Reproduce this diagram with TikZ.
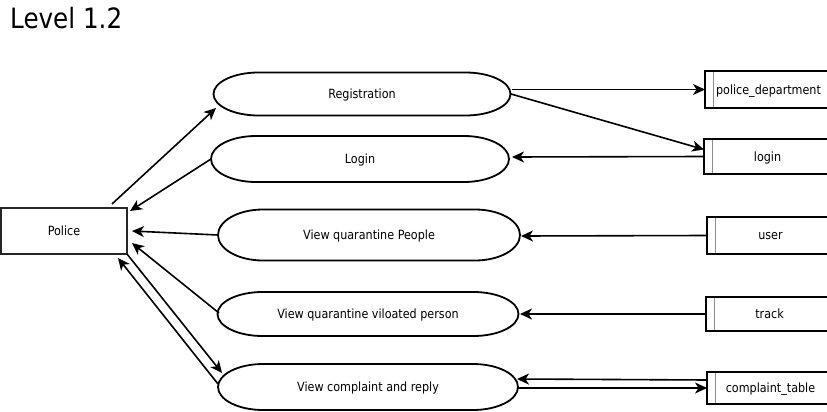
\documentclass[tikz,border=0pt]{standalone}
\usepackage{fontspec}
\setmainfont{DejaVu Sans}[FakeStretch=0.88]
\usetikzlibrary{arrows.meta,calc}
\tikzset{
  proc/.style={rectangle, inner sep=0pt, outer sep=0pt, text depth=0pt, font=\fontsize{12.7}{14}\selectfont},
  procline/.style={line width=1.8pt},
  ent/.style={rectangle, draw, line width=2pt, draw=black!85, minimum width=126pt, minimum height=46pt, inner sep=0pt, outer sep=0pt, text depth=0pt, font=\fontsize{12.7}{14}\selectfont},
  store/.style={rectangle, draw, line width=2pt, anchor=west, minimum width=127pt, inner sep=0pt, outer sep=0pt, text depth=0pt, font=\fontsize{12.7}{14}\selectfont,
    path picture={\draw[line width=0.8pt, black!45] ([xshift=8pt]path picture bounding box.north west) -- ([xshift=8pt]path picture bounding box.south west);}},
  flow/.style={line width=1.6pt, -{Stealth[length=12pt,width=11pt,inset=3.5pt]}}
}
\newcommand{\stad}[1]{\draw[procline] let \p1=(#1.north east), \p2=(#1.south west), \n1={(\y1-\y2)/2} in
  ($(#1.north west)+(45pt,0pt)$) -- ($(#1.north east)+(-45pt,0pt)$)
  arc[start angle=90,end angle=-90,x radius=45pt,y radius=\n1]
  -- ($(#1.south west)+(45pt,0pt)$)
  arc[start angle=270,end angle=90,x radius=45pt,y radius=\n1] -- cycle;}
\begin{document}
\begin{tikzpicture}[x=1pt,y=-1pt]
\useasboundingbox (0,0) rectangle (827,412);
\node[anchor=base west, inner sep=0pt, font=\fontsize{28}{30}\selectfont] (title) at (10,29) {Level 1.2};
\node[ent] (police) at (64,231) {Police};
\node[proc, minimum width=297pt, minimum height=43pt] (reg) at (362,94) {Registration};
\node[proc, minimum width=298pt, minimum height=46pt] (login) at (360,159) {Login};
\node[proc, minimum width=302pt, minimum height=51pt] (vqp) at (369,235) {View quarantine People};
\node[proc, minimum width=301pt, minimum height=44pt] (vqvp) at (368,314) {View quarantine viloated person};
\node[proc, minimum width=300pt, minimum height=46pt] (vcr) at (368,387) {View complaint and reply};
\stad{reg}\stad{login}\stad{vqp}\stad{vqvp}\stad{vcr}
\node[store, minimum height=37pt] (pd) at (705,89.5) {police\_department};
\node[store, minimum height=35pt] (lg) at (704,156.5) {login};
\node[store, minimum height=37pt] (us) at (707,235.5) {user};
\node[store, minimum height=34pt] (tr) at (706,314) {track};
\node[store, minimum height=32pt] (ct) at (707,388) {complaint\_table};
\draw[flow] ($(police.center)+(48,-27)$) -- ($(reg.center)+(-146,14)$);
\draw[flow] ($(login.center)+(-149,0)$) -- ($(police.center)+(66,-20)$);
\draw[flow] ($(vqp.center)+(-151,0)$) -- ($(police.center)+(68,0)$);
\draw[flow] ($(vqvp.center)+(-149,-1)$) -- ($(police.center)+(68,12)$);
\draw[flow] ($(police.center)+(63,23)$) -- ($(vcr.center)+(-146,-14)$);
\draw[flow] ($(vcr.center)+(-150,-3)$) -- ($(police.center)+(54,27)$);
\draw[flow] ($(reg.center)+(150,-4.5)$) -- (pd.west);
\draw[flow] ($(reg.center)+(149,0)$) -- ($(lg.west)+(0,-7)$);
\draw[flow] (lg.west) -- ($(login.center)+(152,-2)$);
\draw[flow] (us.west) -- ($(vqp.center)+(152,1)$);
\draw[flow] (tr.west) -- ($(vqvp.center)+(152,0)$);
\draw[flow] ($(ct.west)+(0,-8)$) -- ($(vcr.center)+(149,-8)$);
\draw[flow] ($(vcr.center)+(150,1)$) -- (ct.west);
\end{tikzpicture}
\end{document}
